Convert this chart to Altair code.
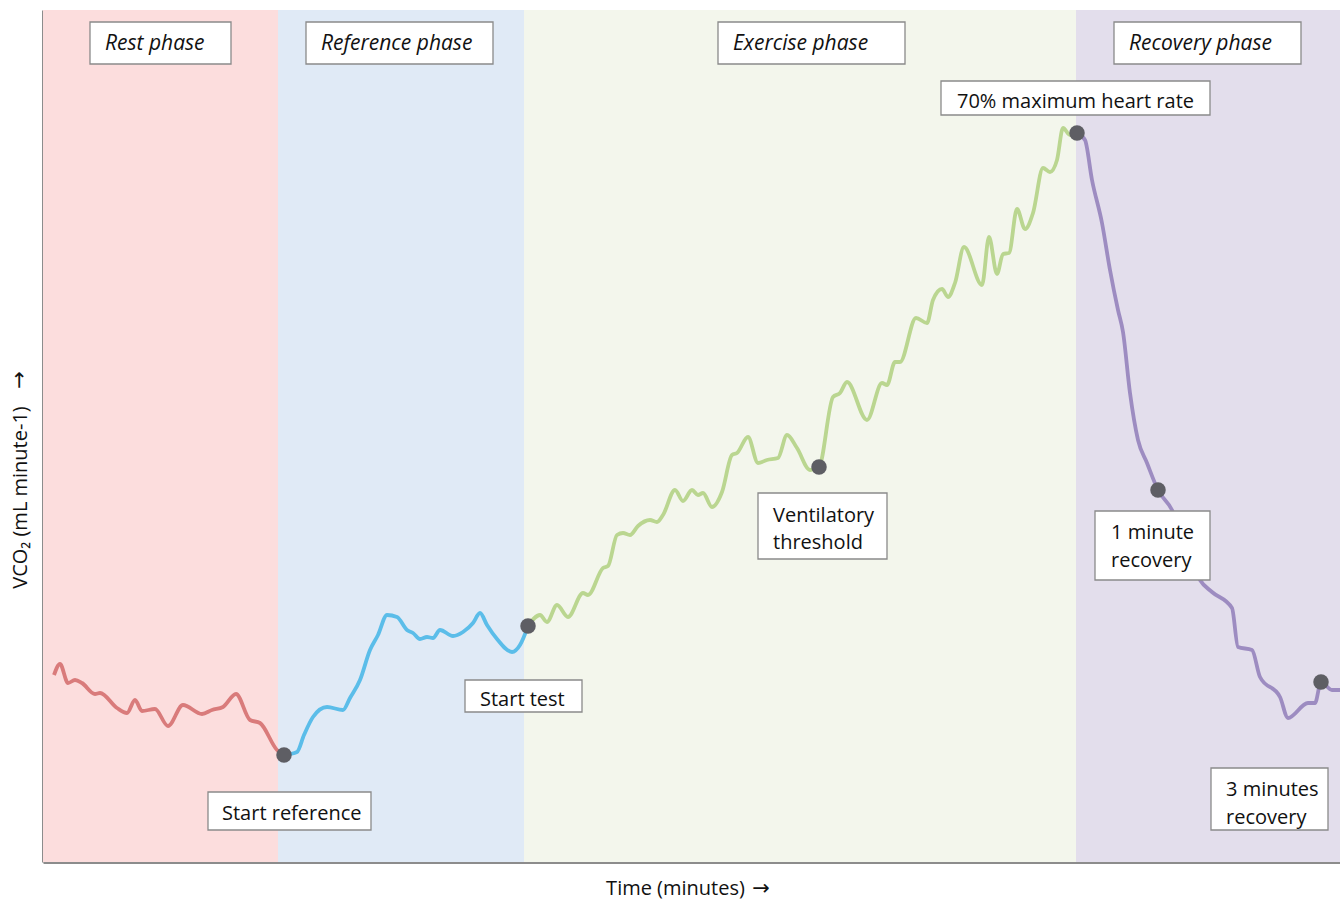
import altair as alt
import pandas as pd

# Plot area in chart units (time on x, VCO2 on y)
W, H = 1297, 852

# Phase bands
phase_names = ["Rest phase", "Reference phase", "Exercise phase", "Recovery phase"]
phase_start = [0, 235, 481, 1033]
phase_end = [235, 481, 1033, 1297]
phase_fill = ["#fcdddd", "#e0eaf6", "#f3f6ec", "#e3deec"]
phase_line = ["#d97b7b", "#5bbde9", "#bad690", "#9d8cc1"]

# VCO2 trace, one array per phase
rest_t = [11, 17, 25, 32, 39, 52, 57, 74, 84, 92, 99, 112, 125, 140, 159, 169, 180, 193, 207, 217, 234, 241]
rest_v = [187, 198, 179, 182, 179, 168, 169, 154, 149, 162, 151, 153, 136, 157, 148, 152, 155, 168, 142, 139, 112, 107]

ref_t = [241, 254, 261, 270, 284, 300, 307, 317, 327, 335, 344, 354, 364, 370, 377, 384, 390, 397,
         410, 420, 430, 437, 444, 454, 469, 477, 485]
ref_v = [107, 110, 127, 145, 155, 152, 164, 182, 212, 227, 247, 245, 232, 229, 223, 225, 224, 232,
         226, 230, 239, 249, 237, 223, 210, 217, 236]

ex_t = [485, 497, 504, 514, 525, 540, 545, 560, 565, 574, 580, 587, 595, 607, 614, 620, 632, 640,
        649, 655, 660, 669, 679, 689, 694, 705, 715, 724, 735, 744, 754, 767, 776, 790, 797, 804,
        824, 839, 844, 852, 857, 873, 884, 890, 899, 905, 912, 921, 939, 946, 954, 960, 966, 974,
        982, 990, 1000, 1007, 1014, 1020, 1027, 1034]
ex_v = [236, 247, 240, 257, 245, 269, 267, 294, 296, 327, 329, 327, 336, 342, 340, 347, 372, 361,
        372, 367, 369, 355, 370, 407, 409, 425, 399, 402, 404, 427, 414, 392, 395, 465, 469, 480,
        442, 479, 477, 500, 500, 544, 539, 562, 573, 565, 579, 615, 577, 625, 588, 608, 609, 653,
        633, 649, 694, 690, 702, 734, 727, 729]

rec_t = [1034, 1042, 1049, 1059, 1067, 1075, 1080, 1087, 1095, 1104, 1115, 1129, 1142, 1152, 1157,
         1169, 1189, 1195, 1209, 1217, 1237, 1245, 1265, 1272, 1278, 1289, 1297]
rec_v = [729, 722, 682, 639, 592, 552, 530, 469, 422, 399, 372, 352, 317, 292, 282,
         270, 254, 215, 212, 185, 165, 144, 159, 159, 180, 172, 172]

# Marked events
event_t = [241, 485, 776, 1034, 1115, 1278]
event_v = [107, 236, 395, 729, 372, 180]

# Annotation boxes: left, right, bottom, top
box_x1 = [47, 263, 675, 1071, 898, 715, 422, 165, 1052, 1168]
box_x2 = [188, 450, 862, 1258, 1167, 844, 539, 328, 1167, 1285]
box_y1 = [798, 798, 798, 798, 747, 303, 150, 32, 282, 32]
box_y2 = [840, 840, 840, 840, 781, 369, 182, 70, 351, 94]

# Annotation text lines
note_text = ["70% maximum heart rate", "Ventilatory", "threshold", "Start test", "Start reference",
             "1 minute", "recovery", "3 minutes", "recovery"]
note_x = [914, 730, 730, 437, 179, 1068, 1068, 1183, 1183]
note_y = [760, 346, 319, 162, 48, 329, 301, 72, 44]

phase_label_x = [62, 278, 690, 1086]
phase_label_y = [818, 818, 818, 818]

# Axis arrows (placed beside the axis titles)
arrow_x = [718, -23]
arrow_y = [-27, 482]
arrow_angle = [0, 270]

FONT = "Open Sans"
INK = "#111111"

phases = pd.DataFrame({"phase": phase_names, "start": phase_start, "end": phase_end})
trace = pd.concat([
    pd.DataFrame({"t": rest_t, "v": rest_v, "phase": "Rest phase"}),
    pd.DataFrame({"t": ref_t, "v": ref_v, "phase": "Reference phase"}),
    pd.DataFrame({"t": ex_t, "v": ex_v, "phase": "Exercise phase"}),
    pd.DataFrame({"t": rec_t, "v": rec_v, "phase": "Recovery phase"}),
], ignore_index=True)
events = pd.DataFrame({"t": event_t, "v": event_v})
boxes = pd.DataFrame({"x1": box_x1, "x2": box_x2, "y1": box_y1, "y2": box_y2})
notes = pd.DataFrame({"text": note_text, "x": note_x, "y": note_y})
phase_labels = pd.DataFrame({"text": phase_names, "x": phase_label_x, "y": phase_label_y})
arrows = pd.DataFrame({"x": arrow_x, "y": arrow_y, "angle": arrow_angle})

xs = alt.Scale(domain=[0, W], nice=False, zero=False)
ys = alt.Scale(domain=[0, H], nice=False, zero=False)

x_axis = alt.Axis(ticks=False, labels=False, grid=False, domainColor="#8c8c8c", domainWidth=3,
                  title="Time (minutes)", titleFont=FONT, titleFontSize=20,
                  titleFontWeight="normal", titleColor=INK, titlePadding=16,
                  titleX=632, titleAlign="center")
y_axis = alt.Axis(ticks=False, labels=False, grid=False, domainColor="#8c8c8c", domainWidth=3,
                  title="VCO₂ (mL minute-1)", titleFont=FONT, titleFontSize=20,
                  titleFontWeight="normal", titleColor=INK, titleAngle=-90,
                  titleX=-23, titleY=487, titleAlign="center", titleBaseline="middle")

bands = alt.Chart(phases).mark_rect(opacity=1).encode(
    x=alt.X("start:Q", scale=xs, axis=x_axis),
    x2="end:Q",
    y=alt.Y("y0:Q", scale=ys, axis=y_axis),
    y2="y1:Q",
    color=alt.Color("phase:N", scale=alt.Scale(domain=phase_names, range=phase_fill), legend=None),
).transform_calculate(y0="0", y1=str(H))

lines = alt.Chart(trace).mark_line(strokeWidth=3.8, interpolate="monotone").encode(
    x=alt.X("t:Q", scale=xs),
    y=alt.Y("v:Q", scale=ys),
    stroke=alt.Stroke("phase:N", scale=alt.Scale(domain=phase_names, range=phase_line), legend=None),
    detail="phase:N",
)

dots = alt.Chart(events).mark_circle(size=240, opacity=1, color="#5e5e64").encode(
    x=alt.X("t:Q", scale=xs),
    y=alt.Y("v:Q", scale=ys),
)

rects = alt.Chart(boxes).mark_rect(fill="white", stroke="#8a8a8a", strokeWidth=1.3).encode(
    x=alt.X("x1:Q", scale=xs), x2="x2:Q",
    y=alt.Y("y1:Q", scale=ys), y2="y2:Q",
)

note_marks = alt.Chart(notes).mark_text(font=FONT, fontSize=20, align="left", baseline="middle",
                                        color=INK).encode(
    x=alt.X("x:Q", scale=xs), y=alt.Y("y:Q", scale=ys), text="text:N",
)

phase_marks = alt.Chart(phase_labels).mark_text(font=FONT, fontSize=21, fontStyle="italic",
                                                align="left", baseline="middle",
                                                color=INK).encode(
    x=alt.X("x:Q", scale=xs), y=alt.Y("y:Q", scale=ys), text="text:N",
)

arrow_marks = alt.Chart(arrows).mark_text(text="→", font="DejaVu Sans", fontSize=21,
                                          align="center", baseline="middle", color=INK).encode(
    x=alt.X("x:Q", scale=xs), y=alt.Y("y:Q", scale=ys), angle=alt.Angle("angle:Q", scale=None),
)

chart = alt.layer(bands, lines, dots, rects, note_marks, phase_marks, arrow_marks).resolve_scale(
    color="independent", stroke="independent"
).properties(
    width=W, height=H,
    autosize=alt.AutoSizeParams(type="none"),
    padding={"left": 43, "top": 10, "right": 0, "bottom": 37},
    background="white",
).configure_view(strokeWidth=0)

chart.save("out.html", embed_options={"renderer": "svg", "actions": False})
